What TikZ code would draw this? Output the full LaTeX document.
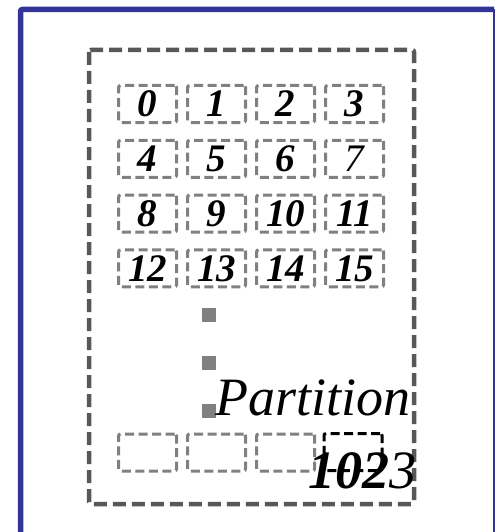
\documentclass[tikz,border=0pt]{standalone}
\usepackage{fontspec}
\setmainfont{Liberation Serif}
\usetikzlibrary{positioning}
\definecolor{framenavy}{RGB}{52,52,150}
\definecolor{darkdash}{RGB}{88,88,88}
\definecolor{celldash}{RGB}{128,128,128}

\tikzset{
  cellbox/.style={draw=celldash, line width=3pt, dash pattern=on 9pt off 4.5pt,
    rounded corners=2pt, minimum width=58pt, minimum height=37pt, inner sep=0pt,
    font=\fontsize{39}{42}\selectfont\bfseries\itshape},
  dotsq/.style={fill=celldash, minimum size=14pt, inner sep=0pt},
  caption/.style={font=\fontsize{54}{60}\selectfont\itshape, inner sep=0pt}
}

\begin{document}
\begin{tikzpicture}[x=1pt, y=-1pt]
  \useasboundingbox (0,0) rectangle (496,532);
  % Frame (cut at right and bottom)
  \draw[framenavy, line width=5.5pt, rounded corners=2pt] (20.5,532) -- (20.5,9.5) -- (494,9.5);
  \draw[framenavy, line width=2.5pt] (494,9.5) -- (494,532);

  % Partition outline
  \draw[darkdash, line width=4.5pt, dash pattern=on 13pt off 6pt, rounded corners=2pt]
    (89,50) rectangle (414,504);

  % Cells 0..15
  \foreach \n in {0,...,15}{
    \pgfmathtruncatemacro\col{mod(\n,4)}
    \pgfmathtruncatemacro\row{div(\n,4)}
    \node[cellbox] (c\n) at ({147.5+69*\col},{104+54.8*\row}) {\ifnum\n=7 \mdseries\fi\n};
  }

  % Gap dots
  \foreach \k/\yy in {1/314.5, 2/362.5, 3/410.5}
    \node[dotsq] (d\k) at (208.5,\yy) {};

  % Last row
  \foreach \col in {0,1,2}
    \node[cellbox] (b\col) at ({147.5+69*\col},452.5) {};
  \node[cellbox, draw=black] (c1023) at (353,452) {};

  % Caption
  \node[caption, anchor=base east] (ptext) at (411,415) {Partition};
  \node[caption, anchor=base east] (pnum) at (417,488) {\textbf{102}3};
\end{tikzpicture}
\end{document}
